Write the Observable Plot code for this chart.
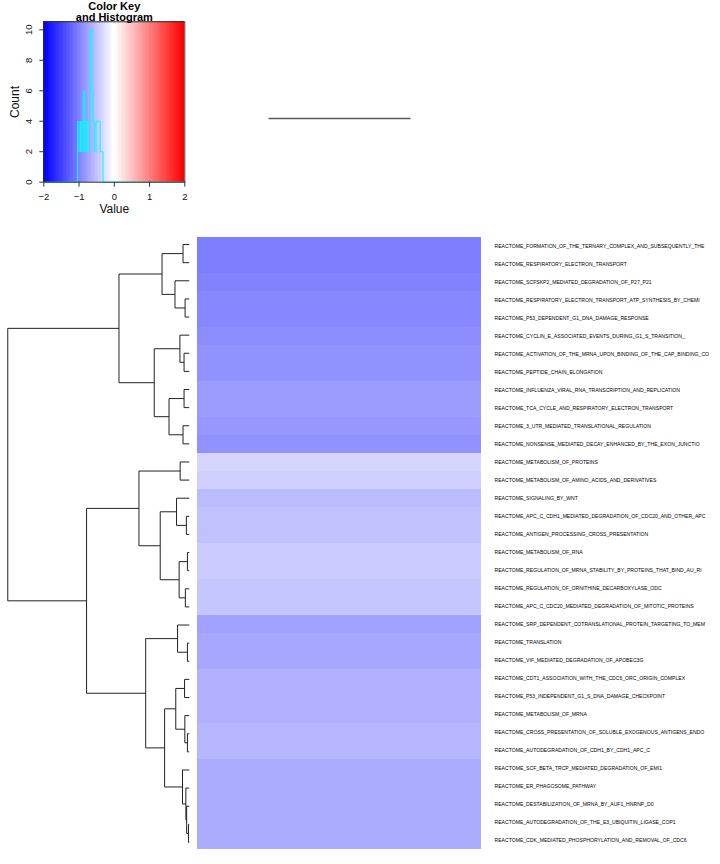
<!DOCTYPE html>
<html><head><meta charset="utf-8">
<script src="https://cdn.jsdelivr.net/npm/d3@7"></script>
<script src="https://cdn.jsdelivr.net/npm/@observablehq/plot@0.6"></script>
<style>
body{margin:0;background:#fff;}
#chart{position:relative;width:720px;height:864px;overflow:hidden;background:#fff;font-family:"Liberation Sans",Arial,sans-serif;}
#chart svg{position:absolute;overflow:visible;}
</style></head><body><div id="chart"></div>
<script>
// ---- data ----
const rowLabels = [
"REACTOME_FORMATION_OF_THE_TERNARY_COMPLEX_AND_SUBSEQUENTLY_THE",
"REACTOME_RESPIRATORY_ELECTRON_TRANSPORT",
"REACTOME_SCFSKP2_MEDIATED_DEGRADATION_OF_P27_P21",
"REACTOME_RESPIRATORY_ELECTRON_TRANSPORT_ATP_SYNTHESIS_BY_CHEMI",
"REACTOME_P53_DEPENDENT_G1_DNA_DAMAGE_RESPONSE",
"REACTOME_CYCLIN_E_ASSOCIATED_EVENTS_DURING_G1_S_TRANSITION_",
"REACTOME_ACTIVATION_OF_THE_MRNA_UPON_BINDING_OF_THE_CAP_BINDING_CO",
"REACTOME_PEPTIDE_CHAIN_ELONGATION",
"REACTOME_INFLUENZA_VIRAL_RNA_TRANSCRIPTION_AND_REPLICATION",
"REACTOME_TCA_CYCLE_AND_RESPIRATORY_ELECTRON_TRANSPORT",
"REACTOME_3_UTR_MEDIATED_TRANSLATIONAL_REGULATION",
"REACTOME_NONSENSE_MEDIATED_DECAY_ENHANCED_BY_THE_EXON_JUNCTIO",
"REACTOME_METABOLISM_OF_PROTEINS",
"REACTOME_METABOLISM_OF_AMINO_ACIDS_AND_DERIVATIVES",
"REACTOME_SIGNALING_BY_WNT",
"REACTOME_APC_C_CDH1_MEDIATED_DEGRADATION_OF_CDC20_AND_OTHER_APC",
"REACTOME_ANTIGEN_PROCESSING_CROSS_PRESENTATION",
"REACTOME_METABOLISM_OF_RNA",
"REACTOME_REGULATION_OF_MRNA_STABILITY_BY_PROTEINS_THAT_BIND_AU_RI",
"REACTOME_REGULATION_OF_ORNITHINE_DECARBOXYLASE_ODC",
"REACTOME_APC_C_CDC20_MEDIATED_DEGRADATION_OF_MITOTIC_PROTEINS",
"REACTOME_SRP_DEPENDENT_COTRANSLATIONAL_PROTEIN_TARGETING_TO_MEM",
"REACTOME_TRANSLATION",
"REACTOME_VIF_MEDIATED_DEGRADATION_OF_APOBEC3G",
"REACTOME_CDT1_ASSOCIATION_WITH_THE_CDC6_ORC_ORIGIN_COMPLEX",
"REACTOME_P53_INDEPENDENT_G1_S_DNA_DAMAGE_CHECKPOINT",
"REACTOME_METABOLISM_OF_MRNA",
"REACTOME_CROSS_PRESENTATION_OF_SOLUBLE_EXOGENOUS_ANTIGENS_ENDO",
"REACTOME_AUTODEGRADATION_OF_CDH1_BY_CDH1_APC_C",
"REACTOME_SCF_BETA_TRCP_MEDIATED_DEGRADATION_OF_EMI1",
"REACTOME_ER_PHAGOSOME_PATHWAY",
"REACTOME_DESTABILIZATION_OF_MRNA_BY_AUF1_HNRNP_D0",
"REACTOME_AUTODEGRADATION_OF_THE_E3_UBIQUITIN_LIGASE_COP1",
"REACTOME_CDK_MEDIATED_PHOSPHORYLATION_AND_REMOVAL_OF_CDC6"
];
// the heatmap has two identical columns (its column dendrogram joins them at height 0)
const colKeys = ["col1", "col2"];
const rowValues = [
-1.02,-1.02,-0.98,-0.94,-0.94,-0.90,-0.86,-0.86,-0.78,-0.78,-0.82,-0.86,
-0.34,-0.38,-0.54,-0.50,-0.50,-0.42,-0.42,-0.46,-0.46,
-0.74,-0.70,-0.70,-0.62,-0.62,-0.62,-0.58,-0.58,-0.66,-0.66,-0.66,-0.66,-0.66
];
// row dendrogram, hclust-style merge list (negative = leaf index in display order)
const mergePairs = [
[-1,-2],[-4,-5],[-3,2],[1,3],[-7,-8],[-6,5],[-9,-10],[-11,-12],[7,8],[6,9],[4,10],
[-13,-14],[-16,-17],[-15,13],[-18,-19],[-20,-21],[15,16],[14,17],[12,18],
[-23,-24],[-22,20],[-25,-26],[-28,-29],[-27,23],[22,24],
[-33,-34],[-32,26],[-31,27],[-30,28],[25,29],[21,30],[19,31],[11,32]
];
const mergeHeights = [
0.024,0.016,0.055,0.105,0.020,0.036,0.020,0.024,0.078,0.135,0.271,
0.035,0.011,0.049,0.007,0.015,0.039,0.112,0.194,
0.007,0.045,0.018,0.007,0.017,0.052,
0.003,0.010,0.013,0.026,0.095,0.168,0.396,0.700
];
const keyRange = [-2, 2];
const keyTicks = [-2, -1, 0, 1, 2];
const countTicks = [0, 2, 4, 6, 8, 10];
const nColors = 100;

// ---- colour scale (blue - white - red, 100 steps like bluered(100)) ----
const breaks = d3.range(nColors + 1).map(i => keyRange[0] + i * (keyRange[1] - keyRange[0]) / nColors);
const half = nColors / 2;
const palette = d3.range(nColors).map(k => {
  const t = k < half ? k / (half - 1) : (nColors - 1 - k) / (half - 1);
  const c = Math.round(t * 255);
  return k < half ? d3.rgb(c, c, 255).formatHex() : d3.rgb(255, c, c).formatHex();
});
const colorScale = {type: "threshold", domain: breaks.slice(1, -1), range: palette};

const chart = document.getElementById("chart");
function place(svg, left, top) {
  svg.style.left = left + "px";
  svg.style.top = top + "px";
  chart.appendChild(svg);
}

// ---- table: every row value in each (identical) column ----
const cells = rowLabels.flatMap((name, i) => colKeys.map(col => ({name, col, value: rowValues[i]})));

// ---- colour key + histogram ----
const keyBins = d3.range(nColors).map(k => ({x1: breaks[k], x2: breaks[k + 1], v: (breaks[k] + breaks[k + 1]) / 2}));
const bins = d3.bin().domain(keyRange).thresholds(breaks.slice(1, -1))(cells.map(d => d.value));
const histPts = bins.map(b => ({x: b.x0, y: b.length}));
histPts.push({x: keyRange[1], y: bins[bins.length - 1].length});
const maxCount = d3.max(bins, b => b.length);
const yTop = maxCount / 0.95;

const keyPlot = Plot.plot({
  width: 200, height: 220,
  marginLeft: 43.3, marginRight: 15.7, marginTop: 21.3, marginBottom: 38.3,
  style: {fontFamily: "Liberation Sans, Arial, sans-serif", background: "transparent"},
  x: {domain: keyRange, axis: null},
  y: {domain: [0, yTop], axis: null},
  color: colorScale,
  marks: [
    Plot.rect(keyBins, {x1: "x1", x2: "x2", y1: 0, y2: yTop, fill: "v", shapeRendering: "crispEdges"}),
    Plot.line(histPts, {x: "x", y: "y", curve: "step-after", stroke: "#00FFFF", strokeWidth: 1}),
    Plot.frame({stroke: "#333", strokeWidth: 1}),
    Plot.axisX(keyTicks, {anchor: "bottom", tickSize: 5, tickPadding: 6, fontSize: 9.5, label: null, stroke: "#333", color: "#111"}),
    Plot.axisY(countTicks, {anchor: "left", tickSize: 4, tickFormat: () => "", label: null, stroke: "#333"}),
    Plot.text(countTicks, {y: d => d, text: d => String(d), frameAnchor: "left", dx: -15, rotate: -90, textAnchor: "middle", lineAnchor: "middle", fontSize: 9.5, fill: "#111"}),
    Plot.text(["Value"], {text: d => d, frameAnchor: "bottom", dy: 26.5, lineAnchor: "middle", fontSize: 12, fill: "#111"}),
    Plot.text(["Count"], {text: d => d, frameAnchor: "left", dx: -28.3, rotate: -90, textAnchor: "middle", lineAnchor: "middle", fontSize: 12, fill: "#111"}),
    Plot.text(["Color Key"], {text: d => d, frameAnchor: "top", dy: -15.6, lineAnchor: "middle", fontSize: 11, fontWeight: "bold", fill: "#000"}),
    Plot.text(["and Histogram"], {text: d => d, frameAnchor: "top", dy: -4.6, lineAnchor: "middle", fontSize: 11, fontWeight: "bold", fill: "#000"})
  ]
});
place(keyPlot, 0, 0);

// ---- column dendrogram: the two identical columns join at height 0 ----
const colDendro = Plot.plot({
  width: 285, height: 36, margin: 0,
  x: {type: "point", domain: colKeys, padding: 0.5, axis: null},
  y: {domain: [-1, 1], axis: null},
  marks: [
    Plot.link([{a: colKeys[0], b: colKeys[1], h: 0}], {x1: "a", x2: "b", y1: "h", y2: "h", stroke: "#5a5a5a", strokeWidth: 1.3})
  ]
});
place(colDendro, 196, 100);

// ---- row dendrogram ----
const nodes = [];
const segs = [];
mergePairs.forEach(([a, b], i) => {
  const h = mergeHeights[i];
  const ca = a < 0 ? {y: -a, h: 0} : nodes[a - 1];
  const cb = b < 0 ? {y: -b, h: 0} : nodes[b - 1];
  segs.push({x1: h, x2: h, y1: ca.y, y2: cb.y});
  segs.push({x1: h, x2: ca.h, y1: ca.y, y2: ca.y});
  segs.push({x1: h, x2: cb.h, y1: cb.y, y2: cb.y});
  nodes.push({y: (ca.y + cb.y) / 2, h});
});
const rootH = d3.max(mergeHeights);
const nRows = rowLabels.length;
const dendro = Plot.plot({
  width: 196, height: 616, margin: 0,
  x: {domain: [rootH * 1.04, -rootH * 0.04], axis: null},
  y: {domain: [0.5, nRows + 0.5], reverse: true, axis: null},
  marks: [
    Plot.link(segs, {x1: "x1", y1: "y1", x2: "x2", y2: "y2", stroke: "#222", strokeWidth: 1})
  ]
});
place(dendro, 0, 235);

// ---- heatmap ----
const heat = Plot.plot({
  width: 285, height: 616, margin: 0,
  x: {domain: colKeys, axis: null, padding: 0},
  y: {domain: rowLabels, axis: null, padding: 0},
  color: colorScale,
  marks: [
    Plot.cell(cells, {x: "col", y: "name", fill: "value", inset: 0, shapeRendering: "crispEdges"})
  ]
});
place(heat, 196, 235);

// ---- row labels ----
const labels = Plot.plot({
  width: 239, height: 616, margin: 0,
  x: {domain: [0, 1], axis: null},
  y: {domain: rowLabels, axis: null, padding: 0},
  style: {fontFamily: "Liberation Sans, Arial, sans-serif"},
  marks: [
    Plot.text(rowLabels, {y: d => d, text: d => d, frameAnchor: "left", dx: 13, textAnchor: "start", lineAnchor: "middle", fontSize: 5.1, fill: "#000"})
  ]
});
place(labels, 481, 235);
</script>
</body></html>
